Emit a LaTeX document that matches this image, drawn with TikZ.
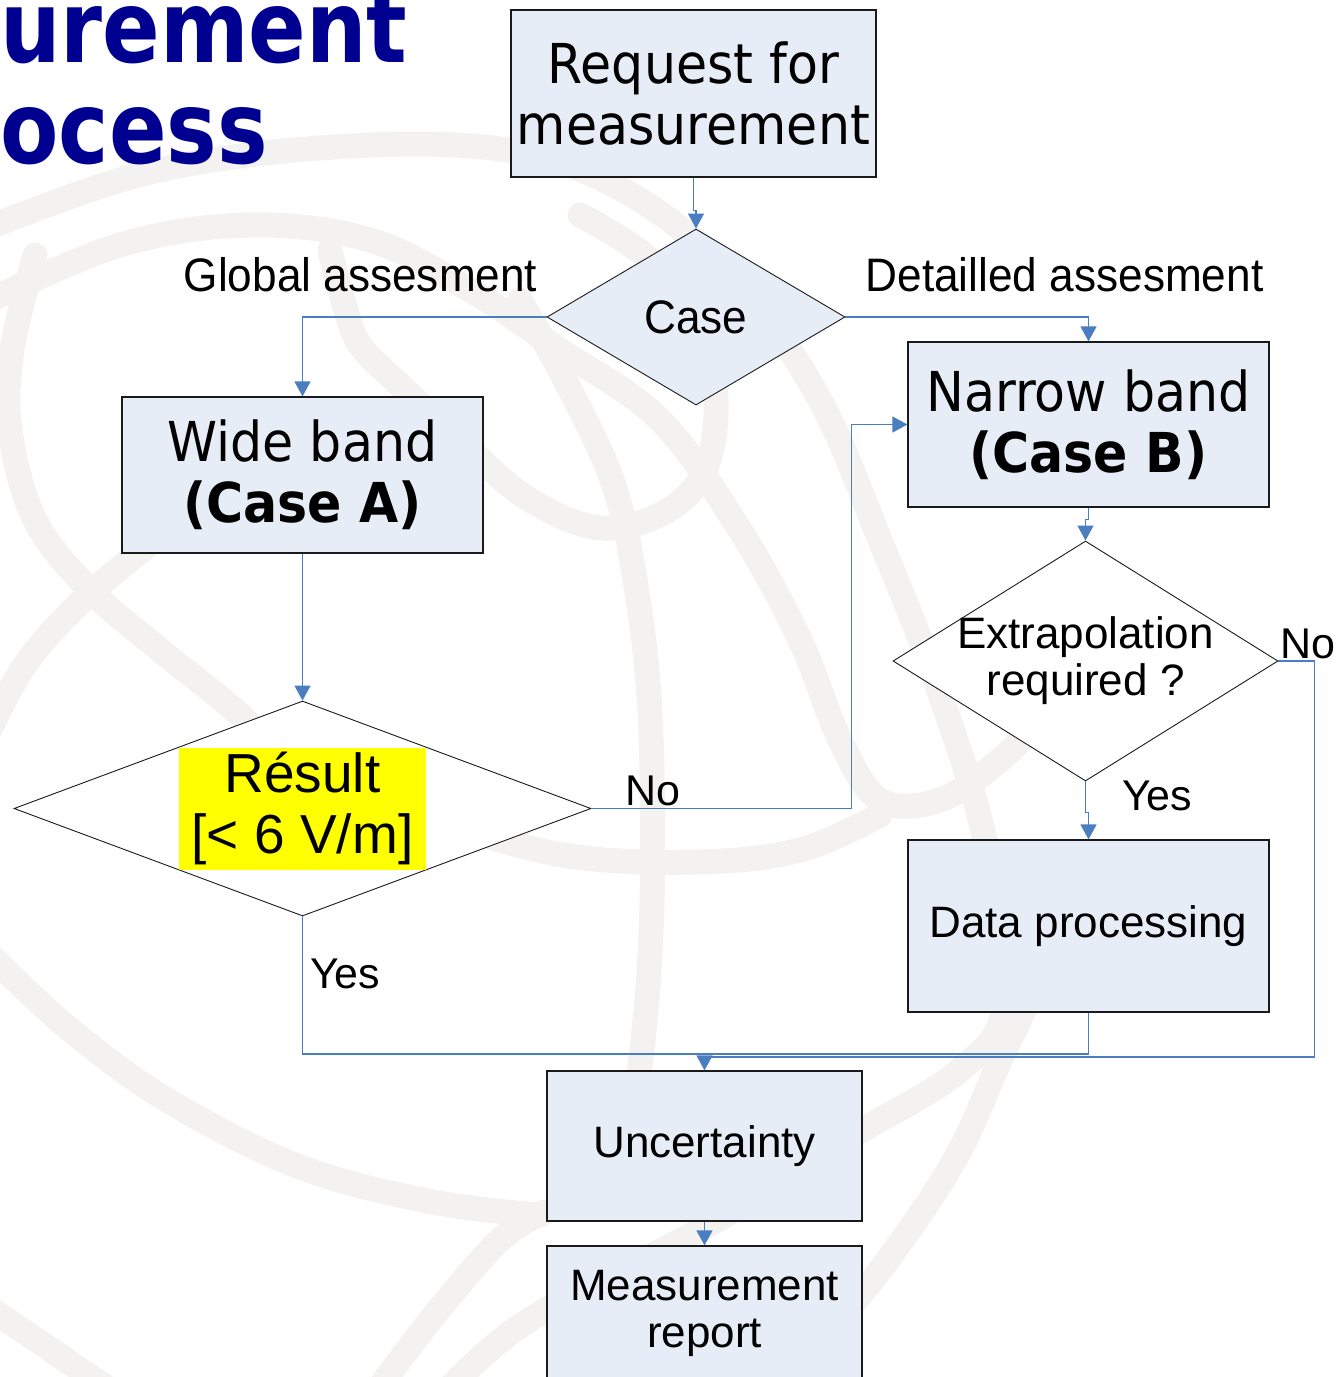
\documentclass[tikz,border=0pt]{standalone}
\usepackage{fontspec}
\setmainfont{Liberation Sans}
\newfontfamily\vfont[FakeStretch=0.92]{DejaVu Sans}
\newfontfamily\afont[FakeStretch=0.94]{Liberation Sans}
\newfontfamily\tfont[FakeStretch=0.85]{DejaVu Sans}
\usetikzlibrary{arrows.meta,shapes.geometric}
\definecolor{cBox}{HTML}{E7EDF7}
\definecolor{cArr}{HTML}{4A7EC0}
\definecolor{cInk}{HTML}{1A1A1A}
\definecolor{cGlobe}{HTML}{F3F2F0}
\definecolor{cTitle}{HTML}{000090}
\definecolor{cHi}{HTML}{FFFF00}
\tikzset{
  every node/.style={text=black, inner sep=0pt},
  box/.style={draw=cInk, line width=1.2pt, fill=cBox, align=center},
  dec/.style={diamond, draw=cInk, line width=0.9pt, fill=white},
  arr/.style={-{Triangle[length=15pt,width=16pt]}, line width=1.2pt, draw=cArr},
  conn/.style={line width=1.2pt, draw=cArr},
  globe/.style={draw=cGlobe, line width=25pt, line cap=round},
  ttl/.style={font=\tfont\bfseries\fontsize{100}{101}\selectfont, text=cTitle, anchor=base west},
  lbl/.style={font=\fontsize{43}{47}\selectfont, anchor=base west},
  head/.style={font=\afont\fontsize{47}{50}\selectfont, anchor=base},
  vtxt/.style={font=\vfont\fontsize{55}{61}\selectfont},
  atxt/.style={font=\fontsize{44}{47}\selectfont},
}
\begin{document}
\begin{tikzpicture}[x=1pt,y=-1pt]
\useasboundingbox (0,0) rectangle (1340,1377);
% ---------------- globe in the background
\draw[globe] plot[smooth, tension=0.6] coordinates {(-30,235) (150,172) (350,146) (520,152) (640,200) (740,285) (820,400) (880,540) (935,680) (985,840) (1005,1000) (960,1070) (840,1143) (700,1230) (520,1326) (420,1420)};
\draw[globe] plot[smooth, tension=0.6] coordinates {(-20,305) (120,245) (250,225) (370,240) (470,290) (560,350) (660,420) (740,530) (800,640) (840,740) (880,800) (940,800) (1000,760) (1060,700)};
\draw[globe] plot[smooth, tension=0.6] coordinates {(700,1450) (840,1317) (907,1233) (960,1150) (1000,1060) (1027,1000) (1040,920)};
\draw[globe] plot[smooth, tension=0.6] coordinates {(330,250) (343,300) (360,345) (400,385) (470,450) (530,500) (600,528) (665,512) (705,470) (716,400) (700,330) (650,260) (580,215)};
\draw[globe] plot[smooth, tension=0.6] coordinates {(520,300) (565,380) (612,480) (635,580) (650,713) (652,903) (642,1050) (625,1150)};
\draw[globe] plot[smooth, tension=0.6] coordinates {(330,782) (430,818) (563,855) (697,862) (800,850) (880,815)};
\draw[globe] plot[smooth, tension=0.6] coordinates {(35,255) (12,350) (10,430) (35,520) (90,590) (160,650) (240,715) (290,770)};
\draw[globe] plot[smooth, tension=0.6] coordinates {(210,490) (160,535) (83,600) (25,665) (-15,740)};
\draw[globe] plot[smooth, tension=0.6] coordinates {(-15,950) (67,1027) (167,1100) (300,1167) (433,1202) (540,1215)};
\draw[globe] plot[smooth, tension=0.6] coordinates {(370,1400) (433,1317) (500,1240) (545,1212)};
\draw[globe] (-15,1305) -- (110,1390);

% ---------------- title
\node[ttl] (t1) at (0,62) {urement};
\node[ttl] (t2) at (0,163) {ocess};

% ---------------- boxes and decisions
\node[box, vtxt, minimum width=365, minimum height=167] (req) at (693.5,93.5) {Request for\\measurement};
\node[dec, fill=cBox, minimum width=298, minimum height=176, label={[font=\afont\fontsize{47}{50}\selectfont]center:Case}] (case) at (696,317) {};
\node[head] (glob) at (360.5,291) {Global assesment};
\node[head] (det) at (1064.5,291) {Detailled assesment};
\node[box, vtxt, minimum width=361, minimum height=156] (wide) at (302.5,475) {Wide band\\\textbf{(Case A)}};
\node[dec, minimum width=577, minimum height=215, label={[font=\fontsize{55}{61}\selectfont, fill=cHi, minimum width=247, minimum height=122, align=center]center:{Résult\\{[}< 6 V/m{]}}}] (res) at (302.5,808.5) {};
\node[box, vtxt, minimum width=361, minimum height=165] (nar) at (1088.5,424.5) {Narrow band\\\textbf{(Case B)}};
\node[dec, minimum width=385, minimum height=240, label={[atxt, align=center]center:{Extrapolation\\required ?}}] (ext) at (1085.5,661) {};
\node[box, atxt, minimum width=361, minimum height=172] (dat) at (1088.5,926) {Data processing};
\node[box, atxt, minimum width=315, minimum height=150] (unc) at (704.5,1146) {Uncertainty};
\node[box, atxt, minimum width=315, minimum height=134] (rep) at (704.5,1313) {Measurement\\report};

% ---------------- branch labels
\node[lbl] (no1) at (625,805) {No};
\node[lbl] (yes1) at (310,988) {Yes};
\node[lbl] (no2) at (1280,658) {No};
\node[lbl] (yes2) at (1122,810) {Yes};

% ---------------- connectors
\draw[arr] (req.south) -- ++(0,33) -| (case.north);
\draw[arr] (case.west) -| (wide.north);
\draw[arr] (case.east) -| (nar.north);
\draw[arr] (wide.south) -- (res.north);
\draw[arr] (res.east) -- ++(260,0) |- (nar.west);
\draw[arr] (nar.south) -- ++(0,12) -| (ext.north);
\draw[arr] (ext.south) -- ++(0,31) -| (dat.north);
\coordinate (jn) at (1088.5,1054);
\coordinate (mg) at (704.5,1057);
\draw[conn] (res.south) |- (jn) -- (dat.south);
\draw[arr] (ext.east) -- ++(36,0) |- (mg) -- (unc.north);
\draw[arr] (unc.south) -- (rep.north);
\end{tikzpicture}
\end{document}
